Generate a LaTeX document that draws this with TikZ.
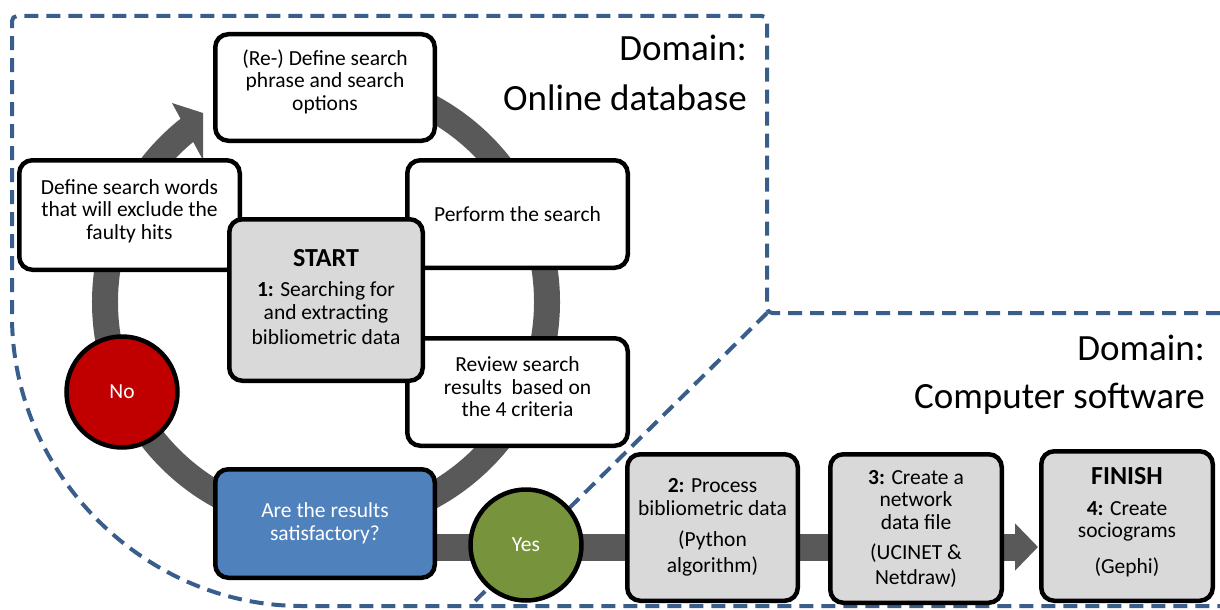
\documentclass[tikz,border=0pt]{standalone}
\usepackage{fontspec}
\setmainfont{Carlito}
\usetikzlibrary{arrows.meta}

\definecolor{domblue}{RGB}{58,94,140}
\definecolor{ringgray}{RGB}{89,89,89}
\definecolor{stepgray}{RGB}{217,217,217}
\definecolor{askblue}{RGB}{79,129,189}
\definecolor{nored}{RGB}{192,0,0}
\definecolor{yesgreen}{RGB}{119,147,60}

\newcommand\boxfont{\fontsize{21.5}{22.5}\selectfont}
\newcommand\domfont{\fontsize{37}{40}\selectfont}
\newcommand\headword[1]{{\fontsize{26}{22.5}\selectfont\textbf{#1}}}

\tikzset{
  flowbox/.style={draw=black, line width=4.5pt, rounded corners=13pt, fill=white,
    align=center, inner sep=0pt, font=\boxfont},
  graybox/.style={flowbox, fill=stepgray},
  boxtext/.style={align=center, inner sep=0pt, font=\boxfont},
  decision/.style={circle, draw=black, line width=4.5pt, minimum size=111pt,
    inner sep=0pt, text=white, font=\boxfont},
  domainline/.style={draw=domblue, line width=4pt, dash pattern=on 14pt off 8pt},
  ringline/.style={draw=ringgray, line width=26pt},
  flowbar/.style={draw=ringgray, line width=27pt,
    -{Triangle[length=23pt,width=46pt]}},
  domlabel/.style={font=\domfont, inner sep=0pt}
}

\begin{document}
\begin{tikzpicture}[x=1pt,y=-1pt]
\useasboundingbox (0,0) rectangle (1220,610);

% domain boundaries
\draw[domainline, rounded corners=5pt]
  (1220,313) -- (767,313) -- (767,16) -- (12,16) -- (12,311)
  arc[start angle=180, end angle=270, radius=295pt] -- (1220,606);
\coordinate (split) at (767,313);
\coordinate (splitfoot) at (470,606);
\draw[domainline] (split) -- (splitfoot);

% domain labels
\node[domlabel, anchor=base east] (dom1a) at (747,60) {Domain:};
\node[domlabel, anchor=base east] (dom1b) at (747,110) {Online database};
\node[domlabel, anchor=base east] (dom2a) at (1205,360) {Domain:};
\node[domlabel, anchor=base east] (dom2b) at (1205,408) {Computer software};

% centre of the search cycle
\coordinate (hub) at (326,302);

% search cycle ring with its arrowhead
\draw[ringline] ([shift={(128:221pt)}]hub) arc[start angle=128, end angle=450, radius=221pt];
\fill[ringgray] (172,103) -- (203,113) -- (203,160) -- cycle;

% main flow bar, running behind the decision and the processing steps
\coordinate (barstart) at (325,547);
\coordinate (bartip) at (1038,547);
\draw[flowbar] (barstart) -- (bartip);

% cycle steps
\node[flowbox, minimum width=219.5pt, minimum height=106.5pt] (redef) at (325,87.5) {};
\node[boxtext] (redeftext) at (325,81.5) {(Re-) Define search\\phrase and search\\options};
\node[flowbox, minimum width=220.5pt, minimum height=109.5pt] (excl) at (129.5,215) {};
\node[boxtext] (excltext) at (129.5,211) {Define search words\\that will exclude the\\faulty hits};
\node[flowbox, minimum width=220.5pt, minimum height=107.5pt] (perf) at (517.5,214)
  {Perform the search};
\node[flowbox, minimum width=220.5pt, minimum height=107.5pt] (review) at (517.5,392) {};
\node[boxtext] (reviewtext) at (517.5,387) {Review search\\results~ based on\\the 4 criteria};
\node[graybox, minimum width=193.5pt, minimum height=161.5pt] (start) at (326,300) {};
\node[boxtext] (starttext) at (326,297)
  {\headword{START}\\[8pt]\textbf{1:} Searching for\\and extracting\\[3pt]bibliometric data};
\node[decision, fill=nored] (no) at (122,392) {\raisebox{-3pt}{No}};
\node[flowbox, fill=askblue, text=white, minimum width=219.5pt, minimum height=108.5pt]
  (sat) at (325,523.5) {Are the results\\satisfactory?};
\node[decision, fill=yesgreen] (yes) at (526,545) {\raisebox{-3pt}{Yes}};

% processing steps
\node[graybox, minimum width=170.5pt, minimum height=146.5pt] (p2) at (712.5,527.5)
  {\textbf{2:} Process\\bibliometric data\\[9pt](Python\\[3pt]algorithm)};
\node[graybox, minimum width=171.5pt, minimum height=148.5pt] (p3) at (916,528.5)
  {\textbf{3:} Create a\\network\\data file\\[8pt](UCINET \&\\[2pt]Netdraw)};
\node[graybox, minimum width=171.5pt, minimum height=149.5pt] (fin) at (1127,526) {};
\node[boxtext] (fintext) at (1127,522)
  {\headword{FINISH}\\[8pt]\textbf{4:} Create\\sociograms\\[13pt](Gephi)};
\end{tikzpicture}
\end{document}
